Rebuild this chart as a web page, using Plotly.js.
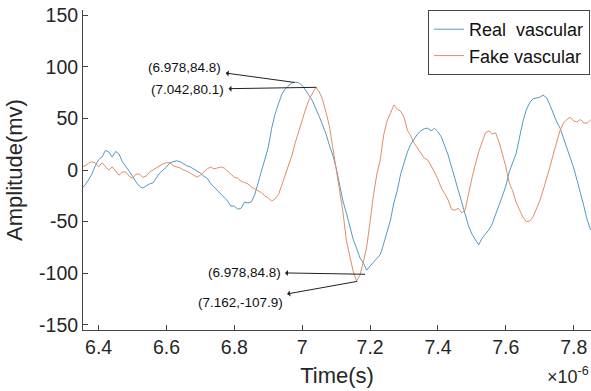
<!DOCTYPE html>
<html>
<head>
<meta charset="utf-8">
<script src="https://cdn.plot.ly/plotly-3.0.1.min.js"></script>
<style>html,body{margin:0;padding:0;background:#fff;}#chart{width:591px;height:391px;}</style>
</head>
<body>
<div id="chart"></div>
<script>
// time in units of 1e-6 s
const timeUs = [6.35,6.36,6.37,6.38,6.39,6.40,6.41,6.42,6.43,6.44,6.45,6.46,6.47,6.48,6.49,6.50,6.51,6.52,6.53,6.54,6.55,6.56,6.57,6.58,6.59,6.60,6.61,6.62,6.63,6.64,6.65,6.66,6.67,6.68,6.69,6.70,6.71,6.72,6.73,6.74,6.75,6.76,6.77,6.78,6.79,6.80,6.81,6.82,6.83,6.84,6.85,6.86,6.87,6.88,6.89,6.90,6.91,6.92,6.93,6.94,6.95,6.96,6.97,6.98,6.99,7.00,7.01,7.02,7.03,7.04,7.05,7.06,7.07,7.08,7.09,7.10,7.11,7.12,7.13,7.14,7.15,7.16,7.17,7.18,7.19,7.20,7.21,7.22,7.23,7.24,7.25,7.26,7.27,7.28,7.29,7.30,7.31,7.32,7.33,7.34,7.35,7.36,7.37,7.38,7.39,7.40,7.41,7.42,7.43,7.44,7.45,7.46,7.47,7.48,7.49,7.50,7.51,7.52,7.53,7.54,7.55,7.56,7.57,7.58,7.59,7.60,7.61,7.62,7.63,7.64,7.65,7.66,7.67,7.68,7.69,7.70,7.71,7.72,7.73,7.74,7.75,7.76,7.77,7.78,7.79,7.80,7.81,7.82,7.83,7.84,7.85];

const realVascular = [-18,-14.5,-9.7,-4,4,10,12.5,19,17.5,12.5,18,15.5,8,4,-1,-6,-11.5,-15.5,-17.5,-15.5,-13.5,-12.5,-8,-3,0,3,7,8,9,8,6,4,3,1,-1,-3,-6,-8,-13,-16.5,-19.5,-23,-27,-30,-35,-35,-38,-37,-31,-32,-31,-24,-12.5,-1,10,22,40.5,54,64,73.5,78.5,82,84.5,85,84.5,82,77.5,72.5,67,60,52,43.5,35,24,14.5,2,-14.5,-30,-41.5,-55,-67,-75.5,-85,-90,-97,-93,-89,-86,-82,-71.5,-60,-48.5,-32,-20,-4,7,17.5,25,30,35,38,40,40.5,38,40.5,37,32,24,14.5,3,-8,-19.5,-30,-41.5,-54,-62,-68,-72.5,-66,-62,-58,-52,-43.5,-34,-25,-15.5,-2,7,15.5,31,46.5,58,65,69,70,70.5,72.5,70,63,54,46.5,40.5,31,19.5,10,2,-10,-24,-35,-48.5,-58];

const fakeVascular = [3,4,6.5,8,7,3,7,3,0,3,-1,-5,-2,-2,-6,-8,-4,-4,-7,-6,-2,0,2,4,6,7,7,4,3,2,0,-1,-3,-5,-7,-5,-2,1,3,1,2,3,2,-1,-4,-7,-8,-11,-12,-13.5,-16.5,-18.5,-20,-22,-25,-27,-30,-28,-24,-14.5,-6,5,14.5,27,38.5,49.5,59,68,74.5,80,76,68,56,42.5,22,2,-17.5,-40.5,-68,-84,-98,-107.5,-102,-89,-74.5,-50,-24,-4,10,34,47.5,55,63,59,57,51,38.5,33,26,21,16.5,11.5,9.7,4,-2,-9,-17.5,-23,-29,-38,-39,-37,-41.5,-39,-23,-8,5,17.5,27,36,38,35,36,27,15.5,3,-12.5,-20,-31,-38.5,-45.5,-50,-49.5,-45.5,-38.5,-30,-19.5,-9,3,15.5,26,38.5,45.5,49,51,47.5,46.5,49,45.5,45.5,48.5];

const yTicks = [-150,-100,-50,0,50,100,150];
const yTickLabels = ['-150','-100','-50','0','50','100','150'];
const xTicks = [6.4,6.6,6.8,7,7.2,7.4,7.6,7.8];
const xTickLabels = ['6.4','6.6','6.8','7','7.2','7.4','7.6','7.8'];

// annotation labels and the points they refer to
const annoText = ['(6.978,84.8)','(7.042,80.1)','(6.978,84.8)','(7.162,-107.9)'];
const annoX = [6.978, 7.042, 7.185, 7.162];
const annoY = [84.8, 80.1, -101, -107.9];
const annoAx = [-110, -129, -121, -117];
const annoAy = [-15, 2, -2, 21];

const FONT = 'Liberation Sans, Arial, Helvetica, sans-serif';

const traces = [
  {x: timeUs, y: realVascular, type: 'scatter', mode: 'lines', name: 'Real  vascular',
   line: {color: '#5599c0', width: 1}},
  {x: timeUs, y: fakeVascular, type: 'scatter', mode: 'lines', name: 'Fake vascular',
   line: {color: '#db9068', width: 1}}
];

const annotations = annoText.map((t, i) => ({
  x: annoX[i], y: annoY[i], xref: 'x', yref: 'y', text: t,
  showarrow: true, arrowside: 'start', arrowhead: 2, arrowsize: 1, arrowwidth: 1,
  arrowcolor: '#222', ax: annoAx[i], ay: annoAy[i], standoff: 0, startstandoff: 3,
  font: {family: FONT, size: 13.5, color: '#111'}
}));
annotations.push({
  xref: 'paper', yref: 'paper', x: 1, y: 0, xanchor: 'right', yanchor: 'bottom',
  yshift: -59, showarrow: false,
  text: '×10<sup>-6</sup>', font: {family: FONT, size: 18, color: '#262626'}
});

const layout = {
  width: 591, height: 391,
  margin: {l: 83, r: 0, t: 10, b: 61},
  paper_bgcolor: '#fff', plot_bgcolor: '#fff',
  showlegend: true,
  legend: {x: 0.998, xanchor: 'right', y: 1, yanchor: 'top', bgcolor: '#fff',
           bordercolor: '#444', borderwidth: 1, itemwidth: 30,
           font: {family: FONT, size: 18, color: '#111'}, tracegroupgap: 0},
  xaxis: {range: [6.354, 7.851], tickvals: xTicks, ticktext: xTickLabels,
          ticks: 'inside', ticklen: 5, tickcolor: '#444', showgrid: false, zeroline: false,
          showline: true, linecolor: '#444', linewidth: 1, mirror: false,
          tickfont: {family: FONT, size: 19.5, color: '#262626'},
          title: {text: 'Time(s)', font: {family: FONT, size: 22, color: '#262626'}, standoff: 10}},
  yaxis: {range: [-155, 155], tickvals: yTicks, ticktext: yTickLabels,
          ticks: 'inside', ticklen: 5, tickcolor: '#444', showgrid: false, zeroline: false,
          showline: true, linecolor: '#444', linewidth: 1, mirror: false,
          tickfont: {family: FONT, size: 19.5, color: '#262626'},
          title: {text: 'Amplitude(mv)', font: {family: FONT, size: 22, color: '#262626'}, standoff: 10}},
  annotations: annotations
};

Plotly.newPlot('chart', traces, layout, {displayModeBar: false, staticPlot: true});
</script>
</body>
</html>
